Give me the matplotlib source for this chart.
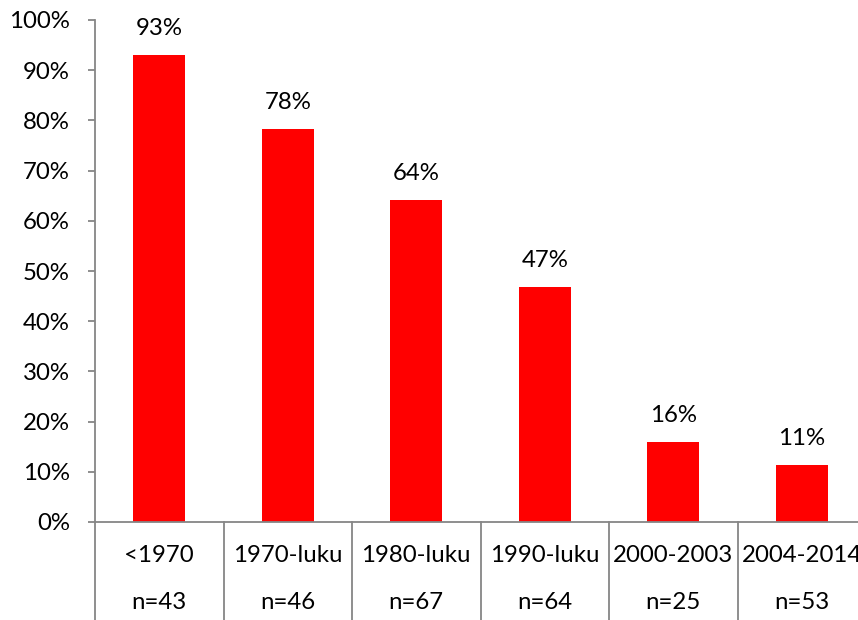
import matplotlib.pyplot as plt
import matplotlib.transforms as mtransforms
from matplotlib.ticker import PercentFormatter

categories = ['<1970', '1970-luku', '1980-luku', '1990-luku', '2000-2003', '2004-2014']
counts = ['n=43', 'n=46', 'n=67', 'n=64', 'n=25', 'n=53']
shares = [0.930, 0.783, 0.641, 0.468, 0.159, 0.114]
labels = ['93%', '78%', '64%', '47%', '16%', '11%']

plt.rcParams['font.family'] = ['Lato', 'DejaVu Sans']
axis_grey = '#868686'
fs = 17.3

fig = plt.figure(figsize=(8.58, 6.2), dpi=100)
ax = fig.add_axes([95 / 858, 98 / 620, 771 / 858, 502 / 620])

x = list(range(len(categories)))
bars = ax.bar(x, shares, width=0.405, color='#ff0000')

for xi, v, lab in zip(x, shares, labels):
    ax.annotate(lab, (xi, v), xytext=(0, 19), textcoords='offset points',
                ha='center', va='center', fontsize=fs)

ax.set_xlim(-0.5, len(categories) - 0.5)
ax.set_ylim(0, 1)
ax.set_yticks([i / 10 for i in range(11)])
ax.yaxis.set_major_formatter(PercentFormatter(1.0, decimals=0))
ax.tick_params(axis='y', length=5, width=1.3, color=axis_grey, pad=13, labelsize=fs)
ax.set_xticks([])

for side in ['top', 'right']:
    ax.spines[side].set_visible(False)
for side in ['left', 'bottom']:
    ax.spines[side].set_color(axis_grey)
    ax.spines[side].set_linewidth(1.3)

# two-level category axis with dividers
trans = mtransforms.blended_transform_factory(ax.transData, ax.transAxes)
bottom = -98 / 502
for i in range(len(categories) + 1):
    ax.plot([i - 0.5, i - 0.5], [0, bottom], transform=trans, color=axis_grey,
            lw=1.3, clip_on=False)
for xi, cat, n in zip(x, categories, counts):
    ax.text(xi, -0.066, cat, transform=trans, ha='center', va='center', fontsize=fs)
    ax.text(xi, -0.161, n, transform=trans, ha='center', va='center', fontsize=fs)

fig.savefig('out.png', dpi=100)
